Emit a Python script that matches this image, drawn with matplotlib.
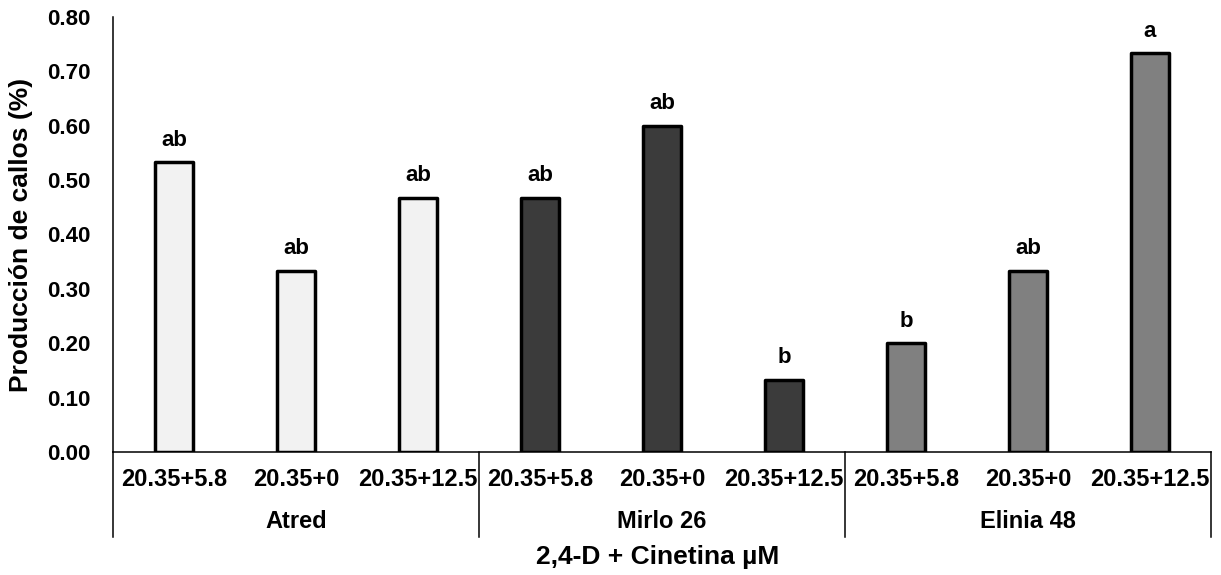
import matplotlib.pyplot as plt
import matplotlib.transforms as mtransforms
from matplotlib.lines import Line2D

plt.rcParams['font.family'] = ['Liberation Sans', 'DejaVu Sans']
plt.rcParams['font.weight'] = 'bold'

varieties = ['Atred', 'Mirlo 26', 'Elinia 48']
treatments = ['20.35+5.8', '20.35+0', '20.35+12.5']
atred = [0.533, 0.333, 0.467]
mirlo = [0.467, 0.600, 0.133]
elinia = [0.200, 0.333, 0.733]
letters_atred = ['ab', 'ab', 'ab']
letters_mirlo = ['ab', 'ab', 'b']
letters_elinia = ['b', 'ab', 'a']
yticks = [0.0, 0.1, 0.2, 0.3, 0.4, 0.5, 0.6, 0.7, 0.8]

colors = ['#f2f2f2', '#3b3b3b', '#808080']
series = [atred, mirlo, elinia]
letters = [letters_atred, letters_mirlo, letters_elinia]

fig = plt.figure(figsize=(12.21, 5.75), dpi=100)
ax = fig.add_axes([113 / 1221, 1 - 452 / 575, (1211 - 113) / 1221, (452 - 17) / 575])

n = len(treatments)
for g, (vals, labs, col) in enumerate(zip(series, letters, colors)):
    xs = [g * n + i + 0.5 for i in range(n)]
    ax.bar(xs, vals, width=0.31, color=col, edgecolor='black', linewidth=2.5,
           joinstyle='round', zorder=3)
    for x, v, lab in zip(xs, vals, labs):
        ax.annotate(lab, (x, v), xytext=(0, 12), textcoords='offset points',
                    ha='center', va='baseline', fontsize=16, fontweight='bold')

ax.set_xlim(0, n * len(varieties))
ax.set_ylim(0, 0.8)
ax.set_yticks(yticks)
ax.set_yticklabels([f'{t:.2f}' for t in yticks], fontsize=16, fontweight='bold')
ax.tick_params(axis='y', length=0, pad=16)
ax.set_xticks([])
for side in ['top', 'right']:
    ax.spines[side].set_visible(False)
for side in ['left', 'bottom']:
    ax.spines[side].set_linewidth(1.1)

ax.set_ylabel('Producción de callos (%)', fontsize=19, fontweight='bold', labelpad=10)

# two-level category axis drawn below the plot
trans = mtransforms.blended_transform_factory(ax.transData, fig.transFigure)
y_tick = 1 - 479 / 575
y_group = 1 - 522 / 575
y_end = 1 - 537 / 575
y_axis = 1 - 452 / 575
for g, name in enumerate(varieties):
    for i, t in enumerate(treatments):
        fig.text(g * n + i + 0.5, y_tick, t, transform=trans, ha='center', va='center',
                 fontsize=17, fontweight='bold')
    fig.text(g * n + n / 2, y_group, name, transform=trans, ha='center', va='center',
             fontsize=17, fontweight='bold')
for b in range(len(varieties) + 1):
    fig.add_artist(Line2D([b * n, b * n], [y_axis, y_end], transform=trans,
                          color='black', linewidth=1.1))

fig.text(658 / 1221, 1 - 557 / 575, '2,4-D + Cinetina µM', ha='center', va='center',
         fontsize=19, fontweight='bold')

fig.savefig('out.png', dpi=100)
